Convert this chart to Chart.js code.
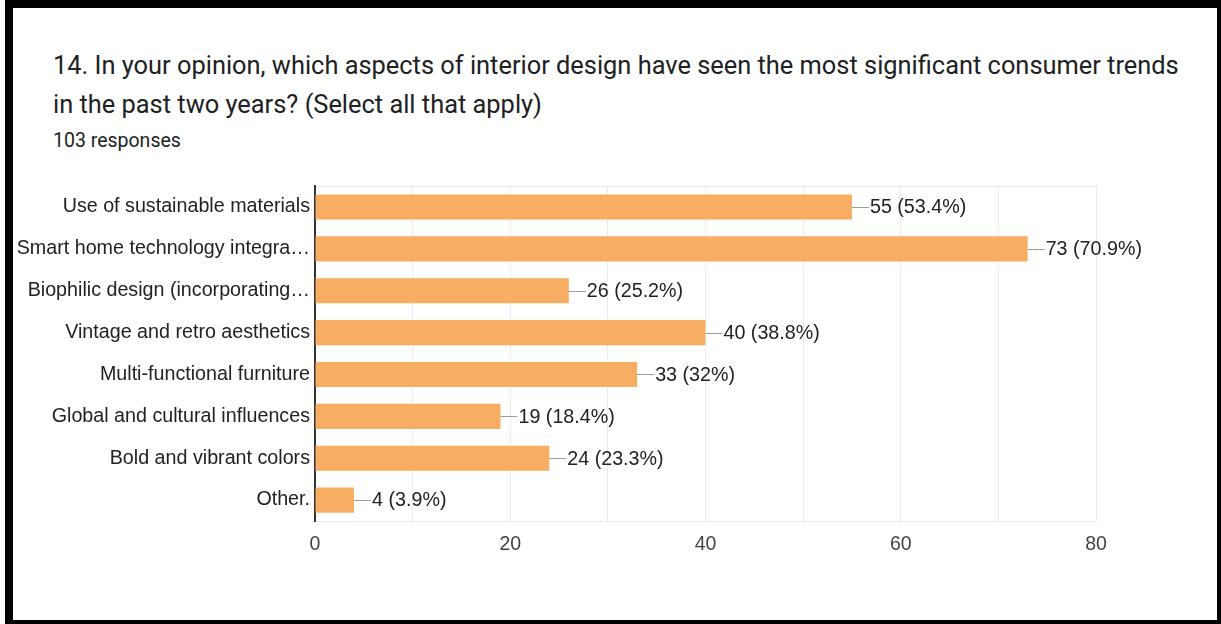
<!DOCTYPE html>
<html>
<head>
<meta charset="utf-8">
<script src="https://cdn.jsdelivr.net/npm/chart.js@4"></script>
<style>
  body { margin: 0; background: #fff; width: 1221px; height: 624px; overflow: hidden; position: relative; }
  #frame { position: absolute; left: 5px; top: 0; width: 1216px; height: 624px; box-sizing: border-box;
    border-left: 8px solid #000; border-top: 8px solid #000; border-right: 4px solid #000; border-bottom: 4px solid #000; }
  #title { position: absolute; left: 53px; top: 46px; width: 1140px; font-family: Roboto, sans-serif;
    font-size: 25.4px; line-height: 39px; color: #202124; }
  #sub { position: absolute; left: 53px; top: 129px; font-family: Roboto, sans-serif; font-size: 19.5px; color: #202124; }
  #wrap { position: absolute; left: 0; top: 0; width: 1221px; height: 624px; }
</style>
</head>
<body>
<div id="frame"></div>
<div id="title">14. In your opinion, which aspects of interior design have seen the most significant consumer trends in the past two years? (Select all that apply)</div>
<div id="sub">103 responses</div>
<div id="wrap"><canvas id="chart"></canvas></div>
<script>
/* --------------- Data --------------------- */
const categories = [
  "Use of sustainable materials",
  "Smart home technology integra…",
  "Biophilic design (incorporating…",
  "Vintage and retro aesthetics",
  "Multi-functional furniture",
  "Global and cultural influences",
  "Bold and vibrant colors",
  "Other."
];
const counts = [55, 73, 26, 40, 33, 19, 24, 4];
const percents = ["53.4", "70.9", "25.2", "38.8", "32", "18.4", "23.3", "3.9"];
const xTicks = [0, 20, 40, 60, 80];

const barColor = "#f7ad62";
const fontFamily = "'Liberation Sans', Arial, sans-serif";

/* --------------- Value labels with leader line --------------------- */
const valueLabels = {
  id: "valueLabels",
  afterDatasetsDraw(chart) {
    const ctx = chart.ctx;
    const meta = chart.getDatasetMeta(0);
    ctx.save();
    meta.data.forEach((bar, i) => {
      const y = Math.round(bar.y) + 0.5;
      ctx.strokeStyle = "#9e9e9e";
      ctx.lineWidth = 1;
      ctx.beginPath();
      ctx.moveTo(bar.x, y);
      ctx.lineTo(bar.x + 17, y);
      ctx.stroke();
      ctx.fillStyle = "#222";
      ctx.font = "19.7px " + fontFamily;
      ctx.textBaseline = "middle";
      ctx.textAlign = "left";
      ctx.fillText(counts[i] + " (" + percents[i] + "%)", bar.x + 18, bar.y + 1);
    });
    ctx.restore();
  }
};

/* --------------- Chart insertion --------------------- */
let chart = new Chart(document.getElementById("chart"), {
  type: "bar",
  plugins: [valueLabels],
  data: {
    labels: categories,
    datasets: [{
      data: counts,
      backgroundColor: barColor,
      borderWidth: 0,
      categoryPercentage: 0.6,
      barPercentage: 1
    }]
  },
  options: {
    indexAxis: "y",
    responsive: true,
    maintainAspectRatio: false,
    animation: false,
    layout: { padding: { top: 186, right: 125, bottom: 63, left: 0 } },
    plugins: { legend: { display: false }, tooltip: { enabled: false } },
    scales: {
      x: {
        min: 0,
        max: 80,
        ticks: {
          stepSize: 10,
          padding: 12,
          color: "#444",
          font: { family: fontFamily, size: 19.5 },
          callback: (v) => (xTicks.includes(v) ? v : "")
        },
        grid: { color: "#ebebeb", drawTicks: false },
        border: { color: "#ebebeb" },
        afterFit: (s) => { s.height = 40; }
      },
      y: {
        ticks: {
          padding: 5,
          color: "#222",
          font: { family: fontFamily, size: 19.7 }
        },
        grid: {
          drawTicks: false,
          color: (c) => (c.index === 0 ? "#ebebeb" : "transparent")
        },
        border: { color: "#333", width: 2 },
        afterFit: (s) => { s.width = 315; }
      }
    }
  }
});
</script>
</body>
</html>
